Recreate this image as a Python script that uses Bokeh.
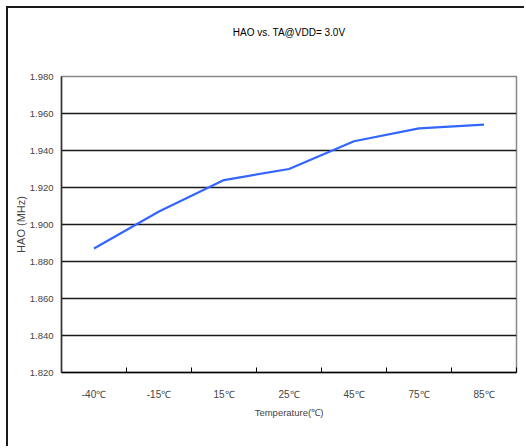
from bokeh.plotting import figure
from bokeh.models import FixedTicker, NumeralTickFormatter, Range1d, ColumnDataSource, LinearAxis
from bokeh.embed import file_html
from bokeh.resources import INLINE
import numpy as np

title_text = "HAO vs. TA@VDD= 3.0V"
categories = ["-40℃", "-15℃", "15℃", "25℃", "45℃", "75℃", "85℃"]
hao_mhz = [1.887, 1.907, 1.924, 1.930, 1.945, 1.952, 1.954]
y_ticks = [1.82, 1.84, 1.86, 1.88, 1.90, 1.92, 1.94, 1.96, 1.98]

FONT = "Liberation Sans, Arial, sans-serif"

n = len(categories)
xpos = np.arange(n) + 0.5

W, H = 518, 440
p = figure(width=W, height=H, output_backend="svg", toolbar_location=None,
           x_range=Range1d(0, n), y_range=Range1d(y_ticks[0], y_ticks[-1]),
           min_border_left=53, min_border_top=68, min_border_right=10, min_border_bottom=76)
p.styles = {"margin-left": "8px", "margin-top": "8px",
            "box-shadow": "-2px -2px 0 0 #1a1a1a"}

# title drawn as the label of an empty axis above the frame
p.title.text = ""
top_axis = LinearAxis(ticker=FixedTicker(ticks=[]), axis_label=title_text,
                      axis_line_color=None, major_tick_line_color=None,
                      minor_tick_line_color=None, major_tick_out=0, major_tick_in=0,
                      minor_tick_out=0, minor_tick_in=0,
                      major_label_text_font_size="0px",
                      axis_label_text_font=FONT, axis_label_text_font_size="10px",
                      axis_label_text_font_style="normal", axis_label_text_color="#000",
                      axis_label_standoff=39)
p.add_layout(top_axis, "above")

src = ColumnDataSource(dict(x=xpos, y=hao_mhz))
p.line("x", "y", source=src, line_color="#3366FF", line_width=2.2)

# x axis: labels at category centres, tick marks at boundaries
xa = p.below[0]
xa.ticker = FixedTicker(ticks=list(xpos), minor_ticks=list(range(0, n + 1)))
xa.major_label_overrides = {float(x): c for x, c in zip(xpos, categories)}
xa.major_tick_line_color = None
xa.major_tick_in = 0
xa.major_tick_out = 0
xa.minor_tick_in = 5
xa.minor_tick_out = 0
xa.minor_tick_line_color = "#000"
xa.axis_line_color = "#000"
xa.axis_line_width = 1.5
xa.major_label_text_font = FONT
xa.major_label_text_font_size = "10px"
xa.major_label_standoff = 16
xa.axis_label = "Temperature(℃)"
xa.axis_label_text_font = FONT
xa.axis_label_text_font_size = "9.5px"
xa.axis_label_text_font_style = "normal"
xa.axis_label_standoff = 4

ya = p.yaxis[0]
ya.ticker = FixedTicker(ticks=y_ticks)
ya.formatter = NumeralTickFormatter(format="0.000")
ya.major_tick_line_color = None
ya.major_tick_in = 0
ya.major_tick_out = 0
ya.minor_tick_line_color = None
ya.axis_line_color = "#333"
ya.axis_line_width = 1.5
ya.major_label_text_font = FONT
ya.major_label_text_font_size = "9.5px"
ya.major_label_standoff = 8
ya.axis_label = "HAO (MHz)"
ya.axis_label_text_font = FONT
ya.axis_label_text_font_size = "11px"
ya.axis_label_text_font_style = "normal"
ya.axis_label_standoff = 0

p.xgrid.grid_line_color = None
p.ygrid.grid_line_color = "#1a1a1a"
p.ygrid.grid_line_width = 1.3

p.outline_line_color = "#888888"
p.outline_line_width = 1.5
p.background_fill_color = "white"
p.border_fill_color = "white"

open("out.html", "w").write(file_html(p, INLINE))
